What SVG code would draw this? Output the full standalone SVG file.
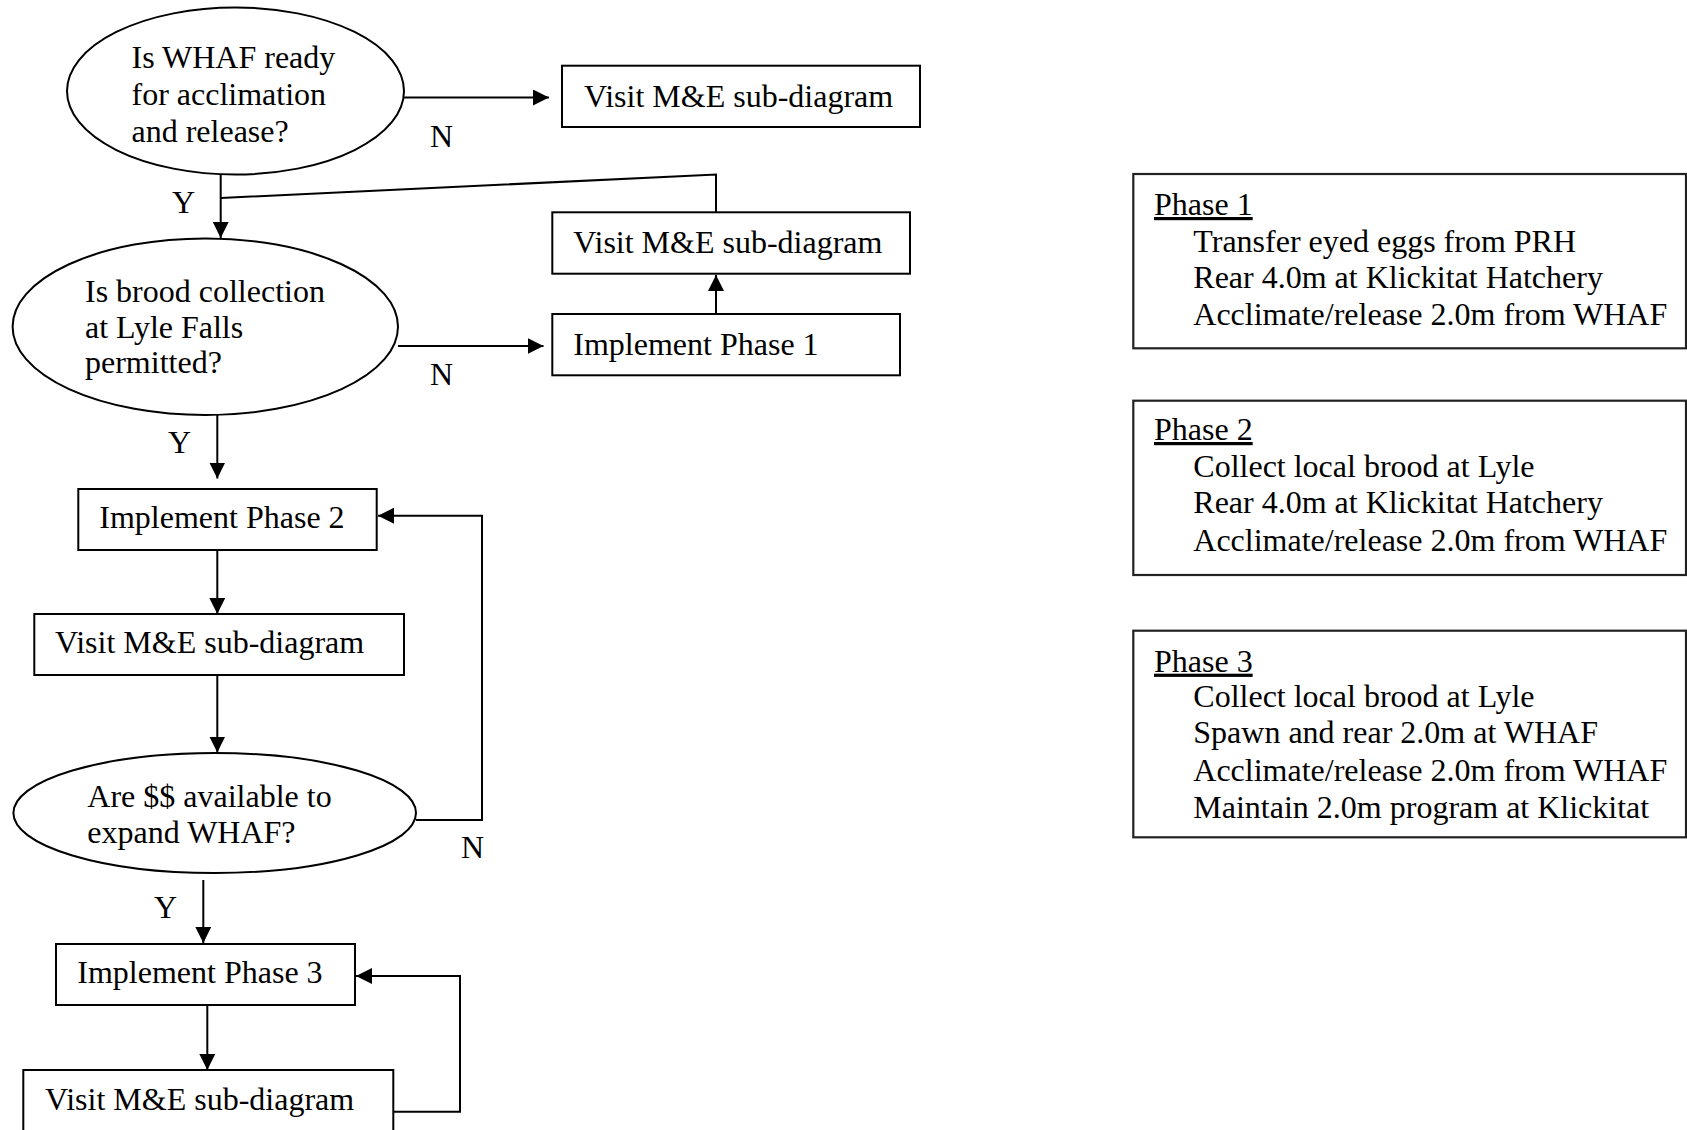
<svg xmlns="http://www.w3.org/2000/svg" width="1687" height="1130" viewBox="0 0 1687 1130">
  <style>
    .shape { fill: #ffffff; stroke: #000000; stroke-width: 2; }
    .panel { fill: #ffffff; stroke: #222222; stroke-width: 2.2; }
    .t { font-family: "Liberation Serif", "Times New Roman", serif; font-size: 32px; fill: #000000; }
    .u { text-decoration: underline; }
    .conn { fill: none; stroke: #000000; stroke-width: 2; }
  </style>
  <defs>
    <marker id="arrow" markerUnits="userSpaceOnUse" markerWidth="17" markerHeight="16" refX="16" refY="8" orient="auto">
      <path d="M0,0 L16,8 L0,16 z" fill="#000000"/>
    </marker>
  </defs>
  <rect width="1687" height="1130" fill="#ffffff"/>

  <g id="connectors">
    <line class="conn" x1="404" y1="97.5" x2="549" y2="97.5" marker-end="url(#arrow)"/>
    <line class="conn" x1="220.7" y1="174" x2="220.7" y2="238" marker-end="url(#arrow)"/>
    <polyline class="conn" points="716,212 716,174.5 221,198"/>
    <line class="conn" x1="716" y1="314" x2="716" y2="275" marker-end="url(#arrow)"/>
    <line class="conn" x1="398" y1="346" x2="543.5" y2="346" marker-end="url(#arrow)"/>
    <line class="conn" x1="217.3" y1="415" x2="217.3" y2="478.5" marker-end="url(#arrow)"/>
    <line class="conn" x1="217.3" y1="550" x2="217.3" y2="614" marker-end="url(#arrow)"/>
    <line class="conn" x1="217.3" y1="675" x2="217.3" y2="752.5" marker-end="url(#arrow)"/>
    <polyline class="conn" points="416,820 482,820 482,515.7 378,515.7" marker-end="url(#arrow)"/>
    <line class="conn" x1="203.3" y1="880" x2="203.3" y2="943" marker-end="url(#arrow)"/>
    <line class="conn" x1="207.3" y1="1005" x2="207.3" y2="1070" marker-end="url(#arrow)"/>
    <polyline class="conn" points="393.3,1111.7 460,1111.7 460,976 356,976" marker-end="url(#arrow)"/>
    <text class="t" x="430" y="147">N</text>
    <text class="t" x="430" y="385">N</text>
    <text class="t" x="461" y="858">N</text>
    <text class="t" x="172" y="213">Y</text>
    <text class="t" x="168" y="453">Y</text>
    <text class="t" x="154" y="918">Y</text>
  </g>

  <g id="q-whaf-ready">
    <ellipse class="shape" cx="235.5" cy="91" rx="168.5" ry="83.5"/>
    <text class="t" x="131.5" y="68.3">Is WHAF ready</text>
    <text class="t" x="131.5" y="105">for acclimation</text>
    <text class="t" x="131.5" y="141.7">and release?</text>
  </g>

  <g id="visit-me-1">
    <rect class="shape" x="562" y="65.7" width="358" height="61.3"/>
    <text class="t" x="584" y="106.7">Visit M&amp;E sub-diagram</text>
  </g>

  <g id="visit-me-2">
    <rect class="shape" x="552.3" y="212.3" width="357.7" height="61.4"/>
    <text class="t" x="573.3" y="252.7">Visit M&amp;E sub-diagram</text>
  </g>

  <g id="implement-phase-1">
    <rect class="shape" x="552.3" y="314" width="347.7" height="61.3"/>
    <text class="t" x="573.3" y="355">Implement Phase 1</text>
  </g>

  <g id="q-brood-collection">
    <ellipse class="shape" cx="205.3" cy="326.7" rx="192.7" ry="88.3"/>
    <text class="t" x="85" y="301.7">Is brood collection</text>
    <text class="t" x="85" y="338.3">at Lyle Falls</text>
    <text class="t" x="85" y="373.3">permitted?</text>
  </g>

  <g id="implement-phase-2">
    <rect class="shape" x="78.3" y="489" width="298.4" height="61"/>
    <text class="t" x="99.3" y="528.3">Implement Phase 2</text>
  </g>

  <g id="visit-me-3">
    <rect class="shape" x="34.3" y="614" width="369.7" height="61"/>
    <text class="t" x="55" y="653.3">Visit M&amp;E sub-diagram</text>
  </g>

  <g id="q-funds">
    <ellipse class="shape" cx="214.7" cy="813" rx="201.3" ry="60"/>
    <text class="t" x="87.3" y="806.7">Are $$ available to</text>
    <text class="t" x="87.3" y="843.3">expand WHAF?</text>
  </g>

  <g id="implement-phase-3">
    <rect class="shape" x="56" y="944" width="299" height="61"/>
    <text class="t" x="77.3" y="983.3">Implement Phase 3</text>
  </g>

  <g id="visit-me-4">
    <rect class="shape" x="23.3" y="1070" width="370" height="90"/>
    <text class="t" x="45" y="1110">Visit M&amp;E sub-diagram</text>
  </g>

  <g id="phase-1-panel">
    <rect class="panel" x="1133.3" y="174" width="552.7" height="174.3"/>
    <text class="t u" x="1154" y="215">Phase 1</text>
    <text class="t" x="1193.3" y="251.7">Transfer eyed eggs from PRH</text>
    <text class="t" x="1193.3" y="288.3">Rear 4.0m at Klickitat Hatchery</text>
    <text class="t" x="1193.3" y="325">Acclimate/release 2.0m from WHAF</text>
  </g>

  <g id="phase-2-panel">
    <rect class="panel" x="1133.3" y="400.7" width="552.7" height="174.3"/>
    <text class="t u" x="1154" y="440">Phase 2</text>
    <text class="t" x="1193.3" y="476.7">Collect local brood at Lyle</text>
    <text class="t" x="1193.3" y="513.3">Rear 4.0m at Klickitat Hatchery</text>
    <text class="t" x="1193.3" y="550.7">Acclimate/release 2.0m from WHAF</text>
  </g>

  <g id="phase-3-panel">
    <rect class="panel" x="1133.3" y="630.7" width="552.7" height="206.6"/>
    <text class="t u" x="1154" y="671.7">Phase 3</text>
    <text class="t" x="1193.3" y="706.7">Collect local brood at Lyle</text>
    <text class="t" x="1193.3" y="743.3">Spawn and rear 2.0m at WHAF</text>
    <text class="t" x="1193.3" y="780.7">Acclimate/release 2.0m from WHAF</text>
    <text class="t" x="1193.3" y="817.7">Maintain 2.0m program at Klickitat</text>
  </g>
</svg>
